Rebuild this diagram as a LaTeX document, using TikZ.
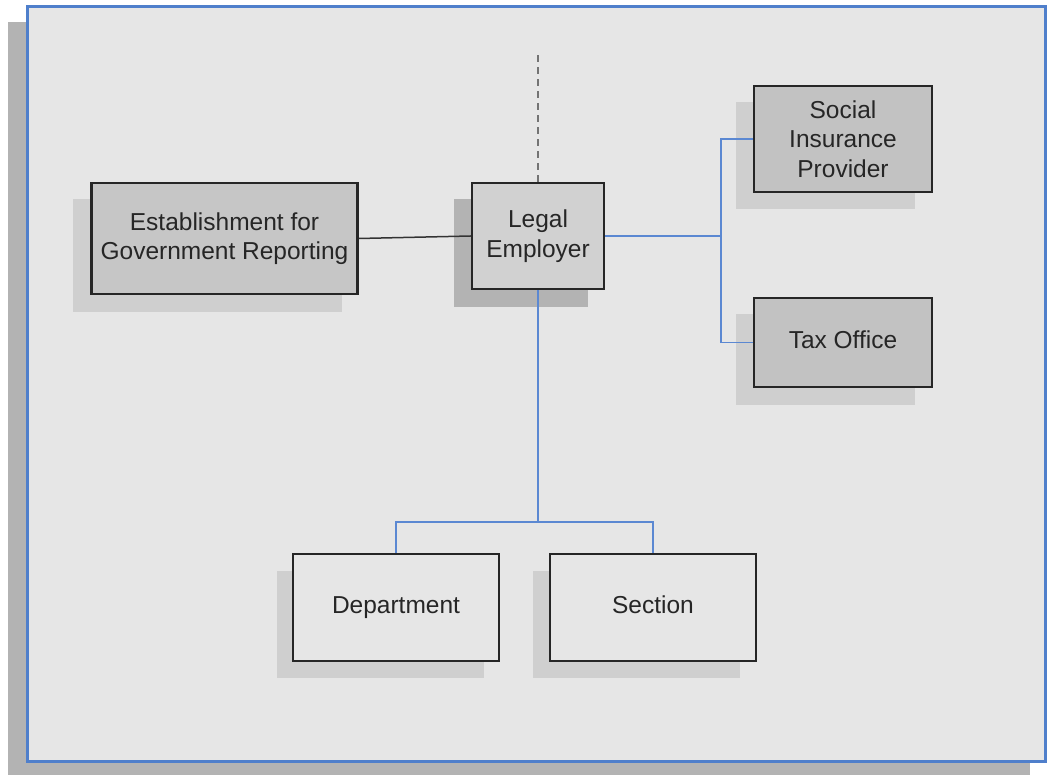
\documentclass[tikz,border=0pt]{standalone}
\usepackage{fontspec}
\setmainfont{Liberation Sans}
\begin{document}
\begin{tikzpicture}[x=1pt,y=-1pt,
  every node/.style={font=\fontsize{24.5}{29.5}\selectfont, text=black!85, align=center, inner sep=0pt},
  darkbox/.style={draw=black!85, line width=2.4pt, fill=boxdark},
  midbox/.style={draw=black!85, line width=2.4pt, fill=boxmid},
  lightbox/.style={draw=black!85, line width=2.4pt, fill=boxlight},
  plainbox/.style={draw=black!85, line width=2.4pt, fill=bgfill},
  oneline/.style={text height=17.5pt, text depth=5pt},
  link/.style={draw=linkblue, line width=1.6pt},
  plainlink/.style={draw=black!80, line width=1.5pt},
  dashlink/.style={draw=black!55, line width=2.4pt, dash pattern=on 7pt off 5pt}
]
\definecolor{bgfill}{HTML}{E6E6E6}
\definecolor{shadowdark}{HTML}{B3B3B3}
\definecolor{shadowlight}{HTML}{CFCFCF}
\definecolor{boxdark}{HTML}{C2C2C2}
\definecolor{boxmid}{HTML}{C6C6C6}
\definecolor{boxlight}{HTML}{D1D1D1}
\definecolor{frameblue}{HTML}{4F7FCB}
\definecolor{linkblue}{HTML}{5B88D2}
\useasboundingbox (0,0) rectangle (1047,775);
\fill[white] (0,0) rectangle (1047,775);
% frame shadow and frame
\fill[shadowdark] (8,22) rectangle (1030,775);
\draw[fill=bgfill, draw=frameblue, line width=3pt] (27,7) rectangle (1045,761);
% box shadows
\fill[shadowlight] (73,199) rectangle (342,312);
\fill[shadowdark] (454,199) rectangle (588,307);
\fill[shadowlight] (736,102) rectangle (915,209);
\fill[shadowlight] (736,314) rectangle (915,405);
\fill[shadowlight] (277,571) rectangle (484,678);
\fill[shadowlight] (533,571) rectangle (740,678);
% nodes
\node[midbox, minimum width=266pt, minimum height=111pt] (est) at (224.5,238.5) {Establishment for\\Government Reporting};
\node[lightbox, minimum width=132pt, minimum height=106pt] (le) at (538,236) {Legal\\Employer};
\node[darkbox, minimum width=178pt, minimum height=106pt] (sip) at (843,139) {Social\\Insurance\\Provider};
\node[darkbox, oneline, minimum width=178pt, minimum height=89pt] (tax) at (843,342.5) {Tax Office};
\node[plainbox, oneline, minimum width=206pt, minimum height=107pt] (dept) at (396,607.5) {Department};
\node[plainbox, oneline, minimum width=206pt, minimum height=107pt] (sec) at (653,607.5) {Section};
\coordinate (top) at (538,50);
% connectors
\draw[dashlink] (le.north) -- (top);
\draw[plainlink] (est.east) -- (le.west);
\draw[link] (le.east) -- (721,236);
\draw[link] (sip.west) -| (721,236) |- (tax.west);
\draw[link] (le.south) -- (538,522);
\draw[link] (dept.north) |- (538,522) -| (sec.north);
\end{tikzpicture}
\end{document}
